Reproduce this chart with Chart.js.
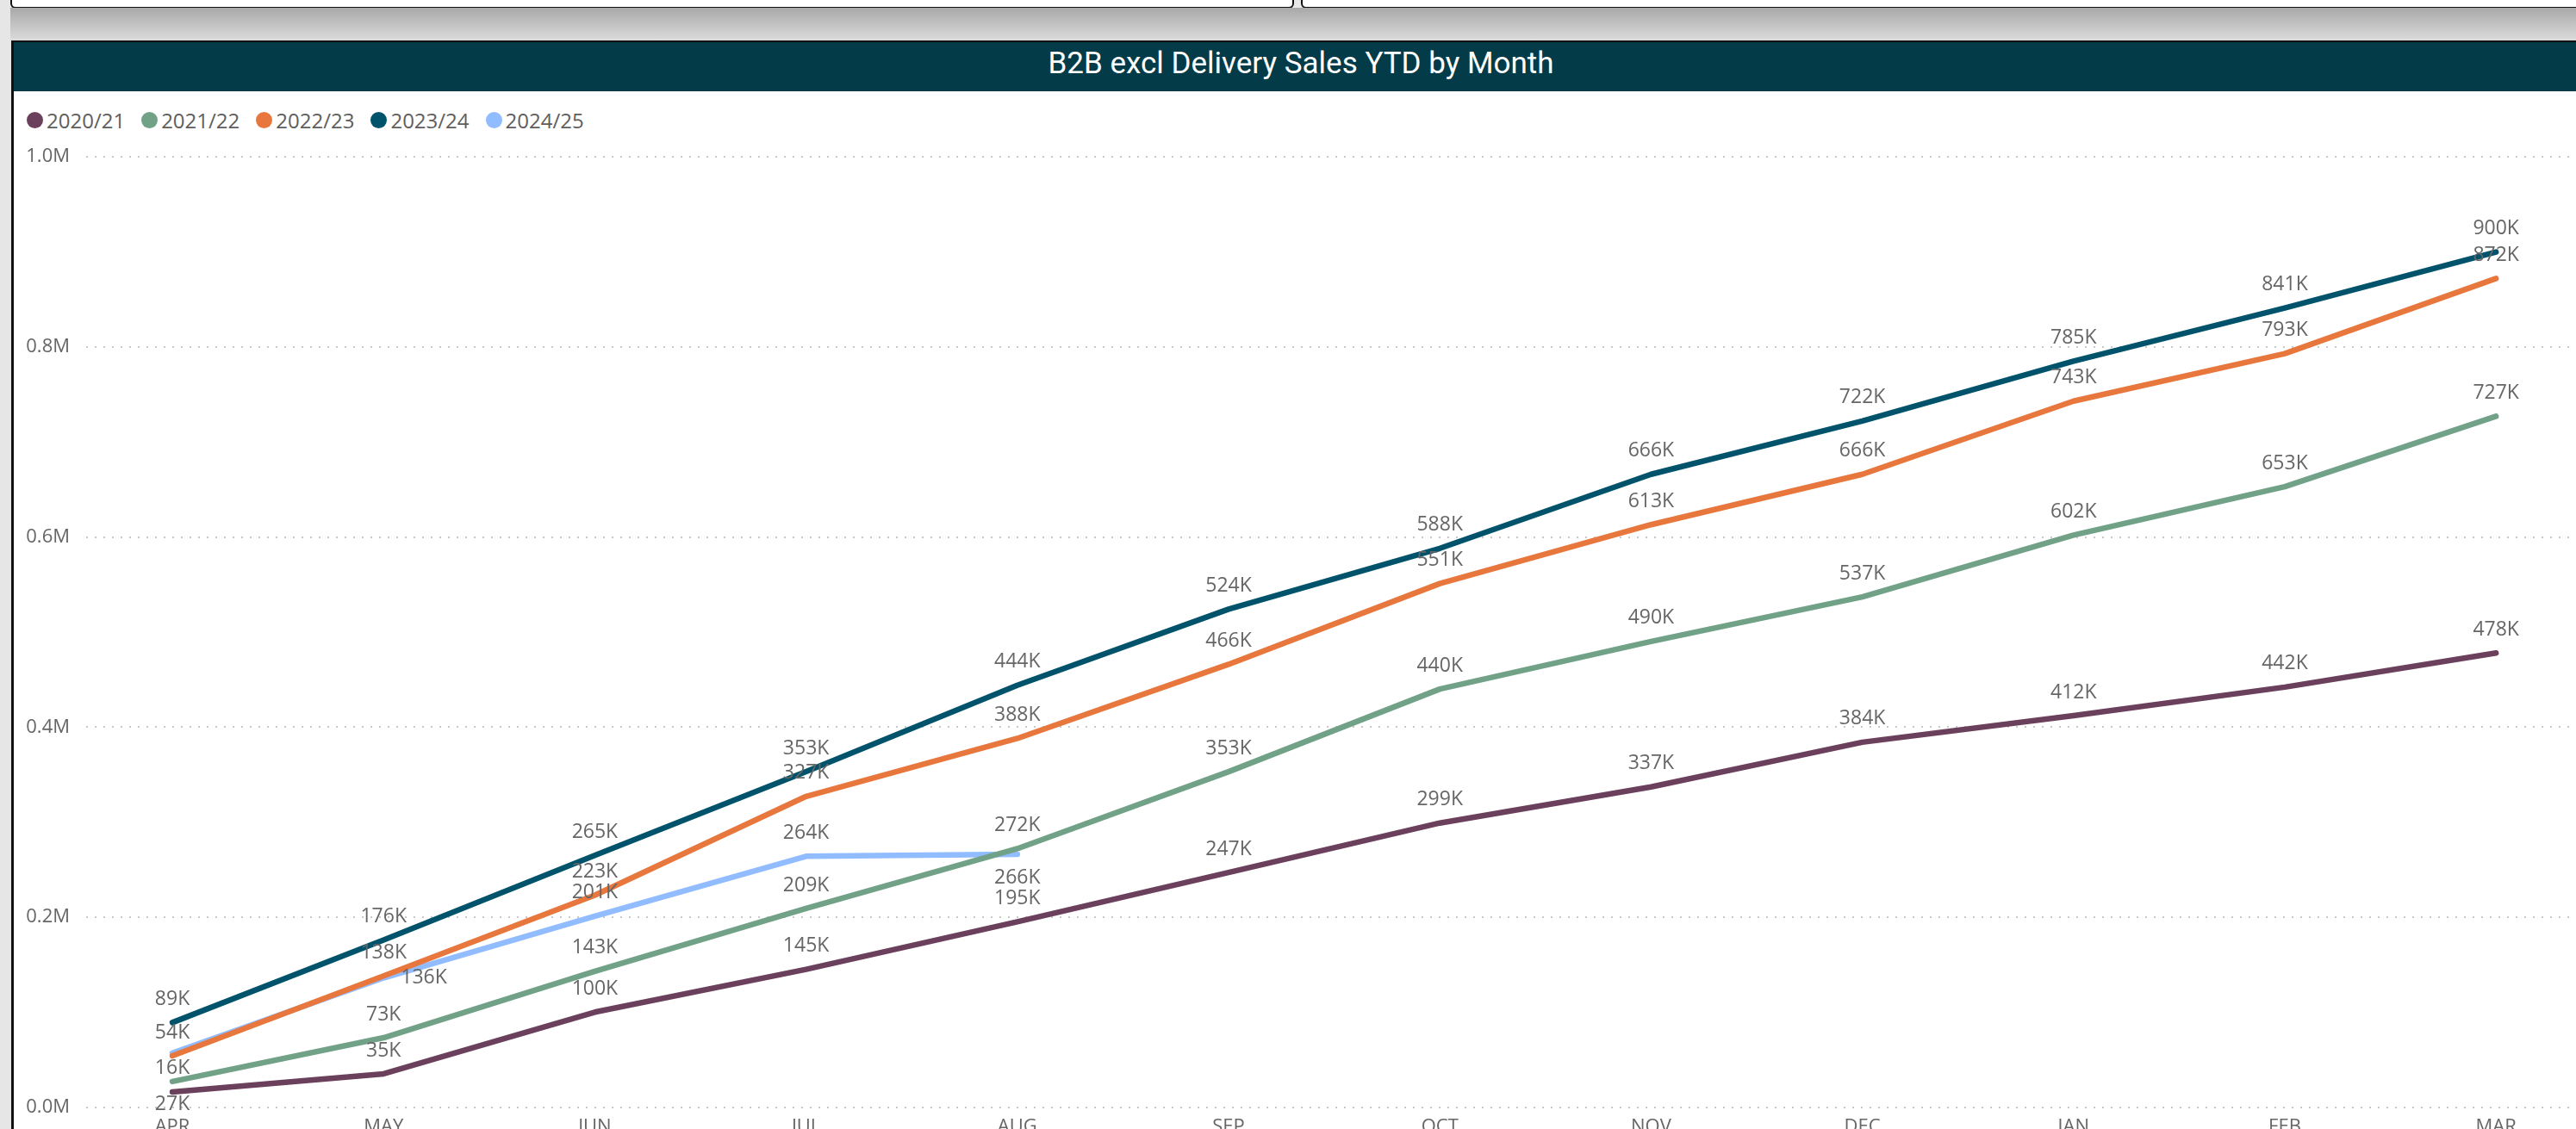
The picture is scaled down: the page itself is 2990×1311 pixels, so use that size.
<!DOCTYPE html>
<html>
<head>
<meta charset="utf-8">
<script src="https://cdn.jsdelivr.net/npm/chart.js@4.4.1/dist/chart.umd.min.js"></script>
<style>
  html, body { margin: 0; padding: 0; }
  body { width: 2990px; height: 1311px; overflow: hidden; background: #e6e6e6; position: relative; font-family: "Open Sans", sans-serif; }
  .topBox { position: absolute; top: -12px; height: 18px; background: #fff; border: 2px solid #111; border-radius: 0 0 6px 6px; }
  .shade { position: absolute; left: 12px; top: 9px; width: 2990px; height: 38px; background: linear-gradient(#a8a8a8, #dcdcdc); }
  .visual { position: absolute; left: 13px; top: 47px; width: 3000px; height: 1400px; background: #fff; border-left: 3px solid #111; border-top: 2px solid #111; }
  .header { position: absolute; left: 0; top: 0; width: 100%; height: 57px; background: #033b49; }
  .title { position: absolute; left: 0; width: 2988px; top: -2px; height: 54px; line-height: 54px; text-align: center; color: #fff; font-family: Roboto, sans-serif; font-size: 35px; }
  .legend { position: absolute; left: 15px; top: 74px; display: flex; align-items: center; font-size: 24px; color: #605e5c; }
  .legend span.item { display: inline-flex; align-items: center; margin-right: 19px; }
  .legend span.dot { width: 19px; height: 19px; border-radius: 50%; margin-right: 4px; display: inline-block; }
  #wrap { position: absolute; left: 16px; top: 150px; width: 2974px; height: 1182px; }
</style>
</head>
<body>
<div class="topBox" style="left:12px; width:1486px;"></div>
<div class="topBox" style="left:1510px; width:1500px;"></div>
<div class="shade"></div>
<div class="visual">
  <div class="header"><div class="title">B2B excl Delivery Sales YTD by Month</div></div>
  <div class="legend" id="legend"></div>
</div>
<div id="wrap"><canvas id="chart"></canvas></div>

<script>
// Months on the category axis
const months = ['APR', 'MAY', 'JUN', 'JUL', 'AUG', 'SEP', 'OCT', 'NOV', 'DEC', 'JAN', 'FEB', 'MAR'];

// Cumulative sales, in thousands
const years = ['2020/21', '2021/22', '2022/23', '2023/24', '2024/25'];
const sales2020 = [16, 35, 100, 145, 195, 247, 299, 337, 384, 412, 442, 478];
const sales2021 = [27, 73, 143, 209, 272, 353, 440, 490, 537, 602, 653, 727];
const sales2022 = [54, 138, 223, 327, 388, 466, 551, 613, 666, 743, 793, 872];
const sales2023 = [89, 176, 265, 353, 444, 524, 588, 666, 722, 785, 841, 900];
const sales2024 = [57, 136, 201, 264, 266];

// Y axis ticks (thousands)
const yTicks = [0, 200, 400, 600, 800, 1000];

const colors = ['#6b405c', '#71a288', '#e8773d', '#00536b', '#91bcff'];
const allSeries = [sales2020, sales2021, sales2022, sales2023, sales2024];

// HTML legend
const legend = document.getElementById('legend');
years.forEach((y, i) => {
  const item = document.createElement('span');
  item.className = 'item';
  item.innerHTML = `<span class="dot" style="background:${colors[i]}"></span>${y}`;
  legend.appendChild(item);
});

// Data labels with simple collision avoidance (above, below, right)
const labelPlugin = {
  id: 'pointLabels',
  afterDatasetsDraw(chart) {
    const ctx = chart.ctx;
    ctx.save();
    ctx.font = '23px "Open Sans"';
    ctx.fillStyle = '#666666';
    ctx.textAlign = 'center';
    ctx.textBaseline = 'middle';
    const placed = [];
    const hits = (b) => placed.some(p => Math.abs(p.x - b.x) < (p.w + b.w) / 2 + 4 && Math.abs(p.y - b.y) < 19);

    chart.data.datasets.forEach((ds, di) => {
      const meta = chart.getDatasetMeta(di);
      meta.data.forEach((pt, i) => {
        const v = ds.data[i].y;
        if (v == null) return;
        const text = v + 'K';
        const w = ctx.measureText(text).width;
        const options = [
          { x: pt.x, y: pt.y - 27, w },
          { x: pt.x, y: pt.y + 27, w },
          { x: pt.x + 20 + w / 2, y: pt.y, w }
        ];
        const spot = options.find(b => !hits(b));
        if (!spot) return;
        placed.push(spot);
        ctx.fillText(text, spot.x, spot.y);
      });
    });
    ctx.restore();
  }
};

new Chart(document.getElementById('chart'), {
  type: 'line',
  data: {
    datasets: years.map((y, i) => ({
      label: y,
      data: allSeries[i].map((v, j) => ({ x: j, y: v })),
      borderColor: colors[i],
      backgroundColor: colors[i],
      borderWidth: 6.5,
      borderCapStyle: 'round',
      borderJoinStyle: 'round',
      pointRadius: 0,
      tension: 0
    }))
  },
  options: {
    responsive: true,
    maintainAspectRatio: false,
    animation: false,
    layout: { padding: { top: 32, right: 7, bottom: 0, left: 0 } },
    plugins: {
      legend: { display: false },
      tooltip: { enabled: false }
    },
    scales: {
      x: {
        type: 'linear',
        min: -0.408,
        max: 11.35,
        afterBuildTicks: (s) => { s.ticks = months.map((m, i) => ({ value: i })); },
        ticks: {
          autoSkip: false,
          maxRotation: 0,
          padding: 10,
          color: '#666666',
          font: { family: 'Open Sans', size: 22 },
          callback: (v) => months[v]
        },
        grid: { display: false, drawTicks: false },
        border: { display: false }
      },
      y: {
        min: 0,
        max: 1000,
        afterBuildTicks: (s) => { s.ticks = yTicks.map(v => ({ value: v })); },
        afterFit: (s) => { s.width = 84; },
        ticks: {
          padding: 19,
          color: '#666666',
          font: { family: 'Open Sans', size: 22 },
          callback: (v) => (v / 1000).toFixed(1) + 'M'
        },
        grid: { color: '#c8c8c8', lineWidth: 2, drawTicks: false },
        border: { display: false, dash: [2, 8] }
      }
    }
  },
  plugins: [labelPlugin]
});
</script>
</body>
</html>
